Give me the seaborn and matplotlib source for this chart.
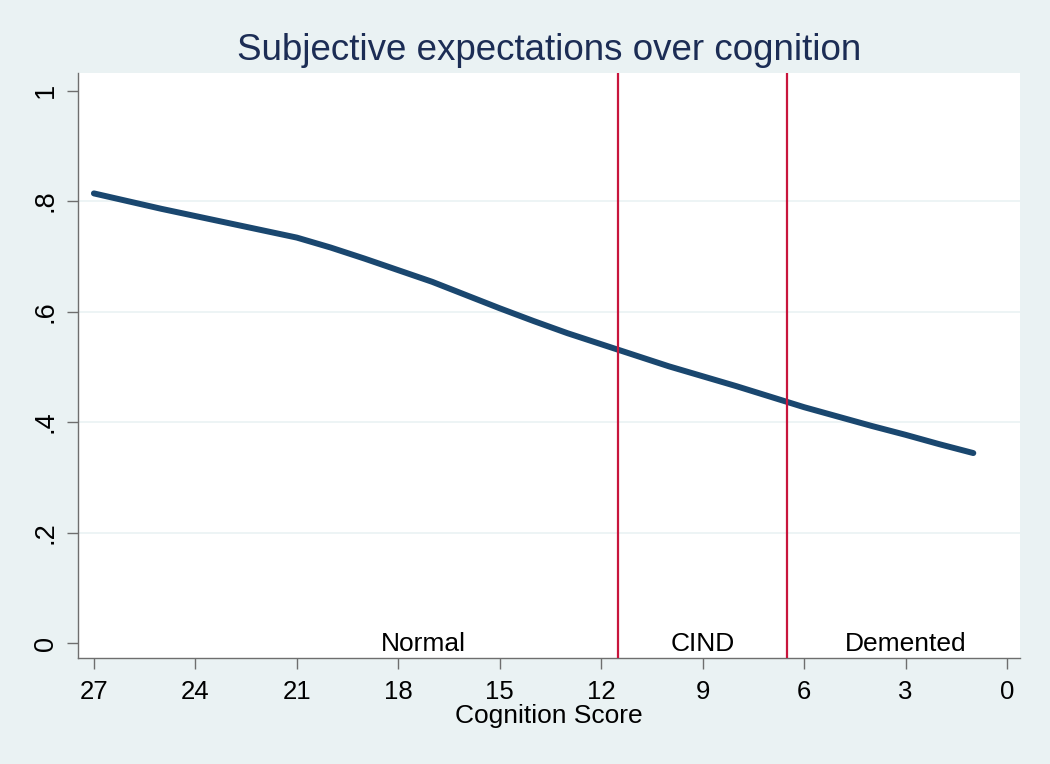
import matplotlib
matplotlib.use("Agg")
import matplotlib.pyplot as plt
import seaborn as sns
import pandas as pd

# Data
cognition_score = [27, 26, 25, 24, 23, 22, 21, 20, 19, 18, 17, 16, 15, 14,
                   13, 12, 11, 10, 9, 8, 7, 6, 5, 4, 3, 2, 1]
expectation = [0.814, 0.800, 0.786, 0.773, 0.760, 0.747, 0.734, 0.716, 0.696,
               0.675, 0.654, 0.630, 0.606, 0.583, 0.561, 0.541, 0.521, 0.501,
               0.483, 0.465, 0.446, 0.427, 0.410, 0.393, 0.377, 0.360, 0.344]
cutoffs = [11.5, 6.5]
region_labels = ["Normal", "CIND", "Demented"]
region_label_x = [17.25, 9.0, 3.0]
x_ticks = [27, 24, 21, 18, 15, 12, 9, 6, 3, 0]
y_ticks = [0, 0.2, 0.4, 0.6, 0.8, 1.0]
y_tick_labels = ["0", ".2", ".4", ".6", ".8", "1"]

df = pd.DataFrame({"score": cognition_score, "expect": expectation})

sns.set_style("white")
plt.rcParams["font.family"] = ["Liberation Sans", "DejaVu Sans"]

BG = "#EAF2F3"
NAVY = "#1A476F"
RED = "#C8153C"

fig = plt.figure(figsize=(10.5, 7.64), dpi=100, facecolor=BG)
ax = fig.add_axes([0.0743, 0.1387, 0.8971, 0.7658])
ax.set_facecolor("white")

sns.lineplot(data=df, x="score", y="expect", ax=ax, color=NAVY,
             linewidth=4.3, solid_capstyle="round", legend=False)

for c in cutoffs:
    ax.axvline(c, color=RED, linewidth=1.6, zorder=3)

for lab, lx in zip(region_labels, region_label_x):
    ax.text(lx, -0.002, lab, ha="center", va="center", fontsize=19, color="black")

ax.set_xlim(27.47, -0.38)
ax.set_ylim(-0.027, 1.032)
ax.set_xticks(x_ticks)
ax.set_xticklabels([str(t) for t in x_ticks])
ax.set_yticks(y_ticks)
ax.set_yticklabels(y_tick_labels, rotation=90, va="center")

ax.tick_params(axis="x", length=8, width=1, color="#6E6E6E", pad=8,
               labelsize=18.5, direction="out", bottom=True, labelcolor="black")
ax.tick_params(axis="y", length=8, width=1, color="#6E6E6E", pad=6,
               labelsize=19.5, direction="out", left=True, labelcolor="black")

ax.yaxis.grid(True, color=BG, linewidth=1.2)
ax.set_axisbelow(True)
gl = ax.get_ygridlines()
gl[0].set_visible(False)
gl[-1].set_visible(False)

for s in ["top", "right"]:
    ax.spines[s].set_visible(False)
for s in ["left", "bottom"]:
    ax.spines[s].set_color("#6E6E6E")
    ax.spines[s].set_linewidth(1)

ax.set_xlabel("Cognition Score", fontsize=19, labelpad=0, color="black")
ax.set_ylabel("")
ax.set_title("Subjective expectations over cognition", fontsize=26.5,
             color="#1C2D55", pad=9)

fig.savefig("out.png", dpi=100, facecolor=BG)
